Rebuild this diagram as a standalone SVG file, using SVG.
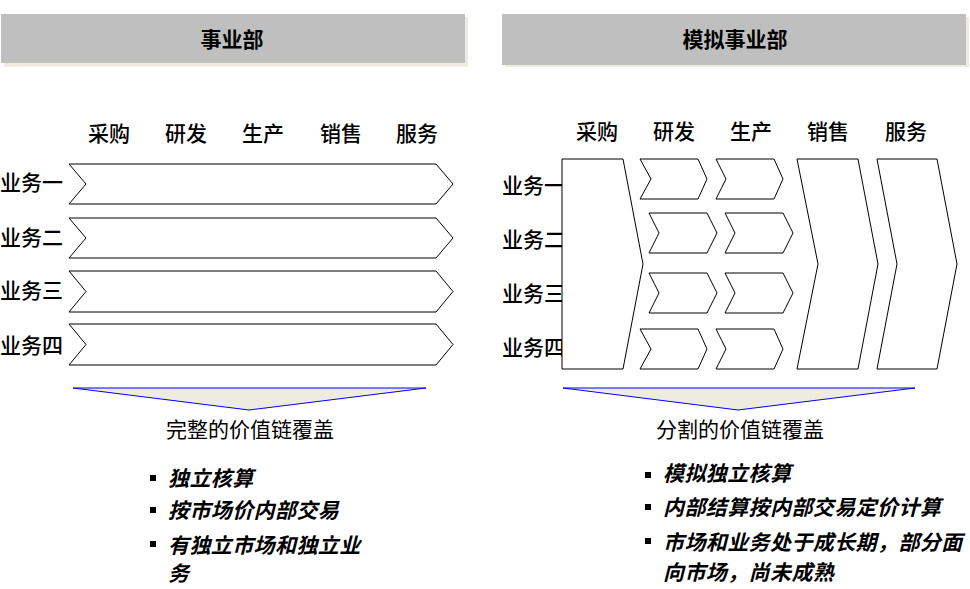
<svg xmlns="http://www.w3.org/2000/svg" width="970" height="589" viewBox="0 0 970 589">
<style>
text{font-family:"Noto Sans CJK SC","Noto Sans",sans-serif;fill:#000}
.hdr{font-size:21px;font-weight:bold;text-anchor:middle}
.col{font-size:21px;font-weight:500;text-anchor:middle}
.row{font-size:21px;font-weight:500}
.cap{font-size:21px;text-anchor:middle}
.bul{font-size:21px;font-weight:bold;font-style:italic;letter-spacing:0.4px}
.shape{fill:#fff;stroke:#000;stroke-width:1}
.hbox{fill:#BFBFBF}
.hsh{fill:#EEECE1}
.tri{fill:#EEECE1;stroke:#0000FF;stroke-width:1}
.sq{fill:#000}
</style>
<rect width="970" height="589" fill="#fff"/>

<g id="left-header">
<rect class="hsh" x="4" y="17" width="464" height="50"/>
<rect class="hbox" x="1" y="14" width="464" height="49"/>
<text class="hdr" x="232" y="47">事业部</text>
</g>
<g id="right-header">
<rect class="hsh" x="505" y="17" width="464" height="50"/>
<rect class="hbox" x="502" y="14" width="464" height="51"/>
<text class="hdr" x="735" y="47">模拟事业部</text>
</g>

<g id="left-columns">
<text class="col" x="109" y="141">采购</text>
<text class="col" x="186" y="141">研发</text>
<text class="col" x="263" y="141">生产</text>
<text class="col" x="341" y="141">销售</text>
<text class="col" x="417" y="141">服务</text>
</g>
<g id="right-columns">
<text class="col" x="597" y="139">采购</text>
<text class="col" x="674" y="139">研发</text>
<text class="col" x="751" y="139">生产</text>
<text class="col" x="828" y="139">销售</text>
<text class="col" x="906" y="139">服务</text>
</g>

<g id="left-rows">
<text class="row" x="0" y="190">业务一</text>
<text class="row" x="0" y="245">业务二</text>
<text class="row" x="0" y="298">业务三</text>
<text class="row" x="0" y="353">业务四</text>
</g>

<g id="left-chain">
<polygon class="shape" points="69,164 436,164 453,184 436,204 69,204 86,184"/>
<polygon class="shape" points="69,218 436,218 453,238 436,258 69,258 86,238"/>
<polygon class="shape" points="69,271 436,271 453,291.5 436,312 69,312 86,291.5"/>
<polygon class="shape" points="69,324 436,324 453,344.5 436,365 69,365 86,344.5"/>
</g>

<g id="right-rows">
<text class="row" x="502" y="193">业务一</text>
<text class="row" x="502" y="247">业务二</text>
<text class="row" x="502" y="301">业务三</text>
<text class="row" x="502" y="355">业务四</text>
</g>

<g id="right-chain">
<polygon id="r-purchase" class="shape" points="562,159 623,159 643,264 623,369 562,369"/>
<polygon class="shape" points="640,159 698,159 707,179 698,199 640,199 651,179"/>
<polygon class="shape" points="716,159 774,159 783,179 774,199 716,199 726,179"/>
<polygon class="shape" points="649,213 707,213 717,233 707,253 649,253 659,233"/>
<polygon class="shape" points="725,213 783,213 793,233 783,253 725,253 735,233"/>
<polygon class="shape" points="649,273 707,273 717,293 707,313 649,313 659,293"/>
<polygon class="shape" points="725,273 783,273 793,293 783,313 725,313 735,293"/>
<polygon class="shape" points="640,329 698,329 707,349 698,369 640,369 651,349"/>
<polygon class="shape" points="716,329 774,329 783,349 774,369 716,369 726,349"/>
<polygon id="r-sales" class="shape" points="797,159 858,159 878,264 858,369 797,369 818,264"/>
<polygon id="r-service" class="shape" points="877,159 937,159 957,264 937,369 877,369 897,264"/>
</g>

<g id="left-summary">
<polygon class="tri" points="73,388 426,388 249,410"/>
<text class="cap" x="250" y="437">完整的价值链覆盖</text>
<rect class="sq" x="150" y="475" width="6" height="6"/>
<rect class="sq" x="150" y="507" width="6" height="6"/>
<rect class="sq" x="150" y="541" width="6" height="6"/>
<text class="bul" x="168" y="486">独立核算</text>
<text class="bul" x="168" y="518">按市场价内部交易</text>
<text class="bul" x="168" y="553">有独立市场和独立业</text>
<text class="bul" x="168" y="581">务</text>
</g>

<g id="right-summary">
<polygon class="tri" points="563,388 915,388 738,410"/>
<text class="cap" x="740" y="437">分割的价值链覆盖</text>
<rect class="sq" x="645" y="472" width="6" height="6"/>
<rect class="sq" x="645" y="504" width="6" height="6"/>
<rect class="sq" x="645" y="538" width="6" height="6"/>
<text class="bul" x="663" y="481">模拟独立核算</text>
<text class="bul" x="663" y="515">内部结算按内部交易定价计算</text>
<text class="bul" x="663" y="550">市场和业务处于成长期，部分面</text>
<text class="bul" x="663" y="580">向市场，尚未成熟</text>
</g>
</svg>
